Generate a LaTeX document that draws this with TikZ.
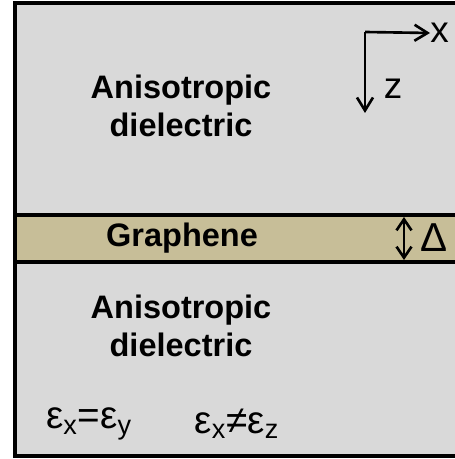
\documentclass[tikz,border=0pt]{standalone}
\usepackage{fontspec}
\setmainfont{Liberation Sans}
\usetikzlibrary{arrows.meta}

\definecolor{slab}{RGB}{217,217,217}
\definecolor{sand}{RGB}{199,190,152}

\begin{document}
\begin{tikzpicture}[
  x=0.02cm, y=-0.02cm,
  layer/.style={draw=black, line width=1.8pt},
  label/.style={font=\fontsize{18.5}{21.6}\selectfont\bfseries, align=center, inner sep=0pt},
  sym/.style={font=\fontsize{21}{24}\selectfont, inner sep=0pt},
  axis/.style={-{Straight Barb[length=2.6mm, width=3.2mm, line width=1.5pt]}, line width=1.5pt},
]
\useasboundingbox (0,0) rectangle (455,459);
\clip (0,0) rectangle (455,459);

% Dielectric and graphene layers
\draw[layer, fill=slab] (15,3) rectangle (490,456);
\draw[layer, fill=sand] (15,215) rectangle (490,262);

\node[label] (top) at (181,106) {Anisotropic\\dielectric};
\node[label] (graph) at (182,238) {Graphene};
\node[label] (bot) at (181,326) {Anisotropic\\dielectric};

% Axes
\coordinate (o) at (365,32);
\coordinate (zend) at (365,113);
\node[sym, anchor=west] (xl) at (430,33) {x};
\node[sym] (zl) at (393,89) {z};
\draw[axis] (o) -- (xl.west);
\draw[axis] (o) -- (zend);

% Thickness
\coordinate (dtop) at (404,217);
\coordinate (dbot) at (404,260);
\draw[axis, {Straight Barb[length=2.2mm, width=3mm, line width=1.5pt]}-{Straight Barb[length=2.2mm, width=3mm, line width=1.5pt]}] (dtop) -- (dbot);
\node[sym, font=\fontsize{23}{26}\selectfont] (delta) at (434,238) {Δ};

% Permittivity relations
\node[sym, font=\fontsize{22}{26}\selectfont] (exy) at (89,424) {ε\textsubscript{x}=ε\textsubscript{y}};
\node[sym, font=\fontsize{22}{26}\selectfont] (exz) at (237,424) {ε\textsubscript{x}≠ε\textsubscript{z}};

\end{tikzpicture}
\end{document}
